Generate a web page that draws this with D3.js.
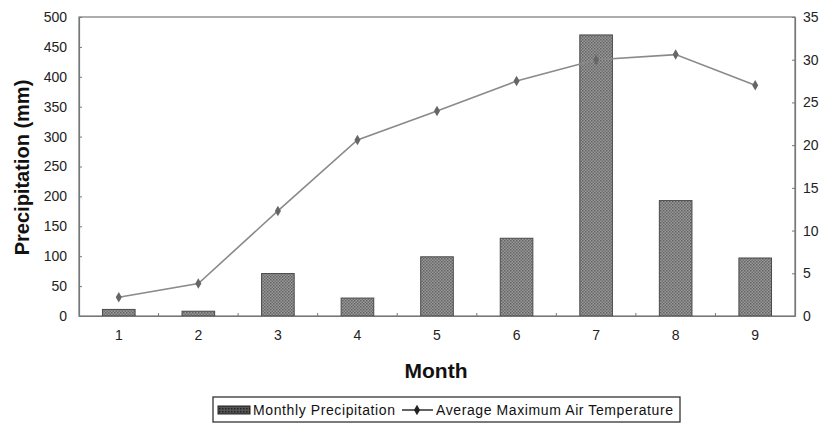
<!DOCTYPE html>
<html><head><meta charset="utf-8">
<script src="https://cdn.jsdelivr.net/npm/d3@7"></script>
<style>
body{margin:0;background:#fff;}
svg{display:block;}
text{font-family:"Liberation Sans",Arial,sans-serif;}
</style></head>
<body><svg id="c" width="822" height="427"></svg>
<script>
const months = ["1","2","3","4","5","6","7","8","9"];
const precipitation = [11, 8, 71, 30, 99, 130, 470, 193, 97];
const temperature = [2.2, 3.8, 12.3, 20.6, 24.0, 27.5, 30.0, 30.6, 27.0];
const leftTicks = [0,50,100,150,200,250,300,350,400,450,500];
const rightTicks = [0,5,10,15,20,25,30,35];
const legendLabels = ["Monthly Precipitation", "Average Maximum Air Temperature"];

const svg = d3.select("#c");
const L = 79, R = 795, T = 17, B = 316;

const defs = svg.append("defs");
const pat = defs.append("pattern").attr("id","dots").attr("width",3).attr("height",3)
  .attr("patternUnits","userSpaceOnUse");
pat.append("rect").attr("width",3).attr("height",3).attr("fill","#9a9a9a");
pat.append("rect").attr("width",1.5).attr("height",1.5).attr("fill","#626262");
pat.append("rect").attr("x",1.5).attr("y",1.5).attr("width",1.5).attr("height",1.5).attr("fill","#6c6c6c");
const pat2 = defs.append("pattern").attr("id","dots2").attr("width",3).attr("height",3)
  .attr("patternUnits","userSpaceOnUse");
pat2.append("rect").attr("width",3).attr("height",3).attr("fill","#555");
pat2.append("rect").attr("width",1.5).attr("height",1.5).attr("fill","#222");

const x = d3.scaleBand().domain(months).range([L,R]).paddingInner(0.59).paddingOuter(0.295);
const xb = d3.scaleBand().domain(months).range([L,R]);
const yL = d3.scaleLinear().domain([0,500]).range([B,T]);
const yR = d3.scaleLinear().domain([0,35]).range([B,T]);

// frame
svg.append("rect").attr("x",L).attr("y",T).attr("width",R-L).attr("height",B-T)
  .attr("fill","none").attr("stroke","#777").attr("stroke-width",1.2);

// bars
svg.append("g").selectAll("rect").data(precipitation).join("rect")
  .attr("x",(d,i)=>x(months[i])).attr("width",x.bandwidth())
  .attr("y",d=>yL(d)).attr("height",d=>B-yL(d))
  .attr("fill","url(#dots)").attr("stroke","#4a4a4a").attr("stroke-width",1);

// left axis
const gl = svg.append("g").attr("transform",`translate(${L},0)`)
  .call(d3.axisLeft(yL).tickValues(leftTicks).tickSizeInner(-3).tickSizeOuter(0).tickPadding(12));
gl.select(".domain").attr("stroke","#777").attr("stroke-width",1.2);
gl.selectAll(".tick line").attr("stroke","#777");
gl.selectAll("text").attr("font-size",14).attr("fill","#222");

// right axis
const gr = svg.append("g").attr("transform",`translate(${R},0)`)
  .call(d3.axisRight(yR).tickValues(rightTicks).tickSizeInner(-3).tickSizeOuter(0).tickPadding(8));
gr.select(".domain").attr("stroke","#777").attr("stroke-width",1.2);
gr.selectAll(".tick line").attr("stroke","#777");
gr.selectAll("text").attr("font-size",14).attr("fill","#222");

// bottom axis with ticks at band boundaries
const gb = svg.append("g").attr("transform",`translate(0,${B})`)
  .call(d3.axisBottom(x).tickSize(0).tickPadding(14));
gb.select(".domain").attr("stroke","#777").attr("stroke-width",1.2);
gb.selectAll("text").attr("font-size",14).attr("fill","#222");
svg.append("g").selectAll("line").data(months.slice(1)).join("line")
  .attr("x1",d=>xb(d)).attr("x2",d=>xb(d)).attr("y1",B).attr("y2",B-3)
  .attr("stroke","#777");

// line
const cx = m => x(m) + x.bandwidth()/2;
const line = d3.line().x((d,i)=>cx(months[i])).y(d=>yR(d));
svg.append("path").datum(temperature).attr("d",line)
  .attr("fill","none").attr("stroke","#8a8a8a").attr("stroke-width",1.6);
const diamond = d3.symbol().type(d3.symbolDiamond).size(32);
svg.append("g").selectAll("path").data(temperature).join("path")
  .attr("d",diamond).attr("transform",(d,i)=>`translate(${cx(months[i])},${yR(d)})`)
  .attr("fill","#666");

// titles
svg.append("text").attr("transform",`translate(29,${(T+B)/2+1}) rotate(-90)`)
  .attr("text-anchor","middle").attr("font-size",20).attr("font-weight","bold").attr("fill","#111")
  .text("Precipitation (mm)");
svg.append("text").attr("x",(L+R)/2-1).attr("y",378).attr("text-anchor","middle")
  .attr("font-size",21).attr("font-weight","bold").attr("fill","#111").text("Month");

// legend
const lg = svg.append("g");
lg.append("rect").attr("x",213).attr("y",397).attr("width",467).attr("height",25)
  .attr("fill","#fff").attr("stroke","#333").attr("stroke-width",1.3);
lg.append("rect").attr("x",218).attr("y",406).attr("width",32).attr("height",8)
  .attr("fill","url(#dots2)").attr("stroke","#222");
lg.append("text").attr("x",253).attr("y",415).attr("font-size",14).attr("fill","#111")
  .attr("textLength",142).text(legendLabels[0]);
lg.append("line").attr("x1",402).attr("x2",433).attr("y1",410).attr("y2",410)
  .attr("stroke","#222").attr("stroke-width",1.4);
lg.append("path").attr("d",diamond).attr("transform","translate(417,410)").attr("fill","#222");
lg.append("text").attr("x",436).attr("y",415).attr("font-size",14).attr("fill","#111")
  .attr("textLength",237).text(legendLabels[1]);
</script></body></html>
